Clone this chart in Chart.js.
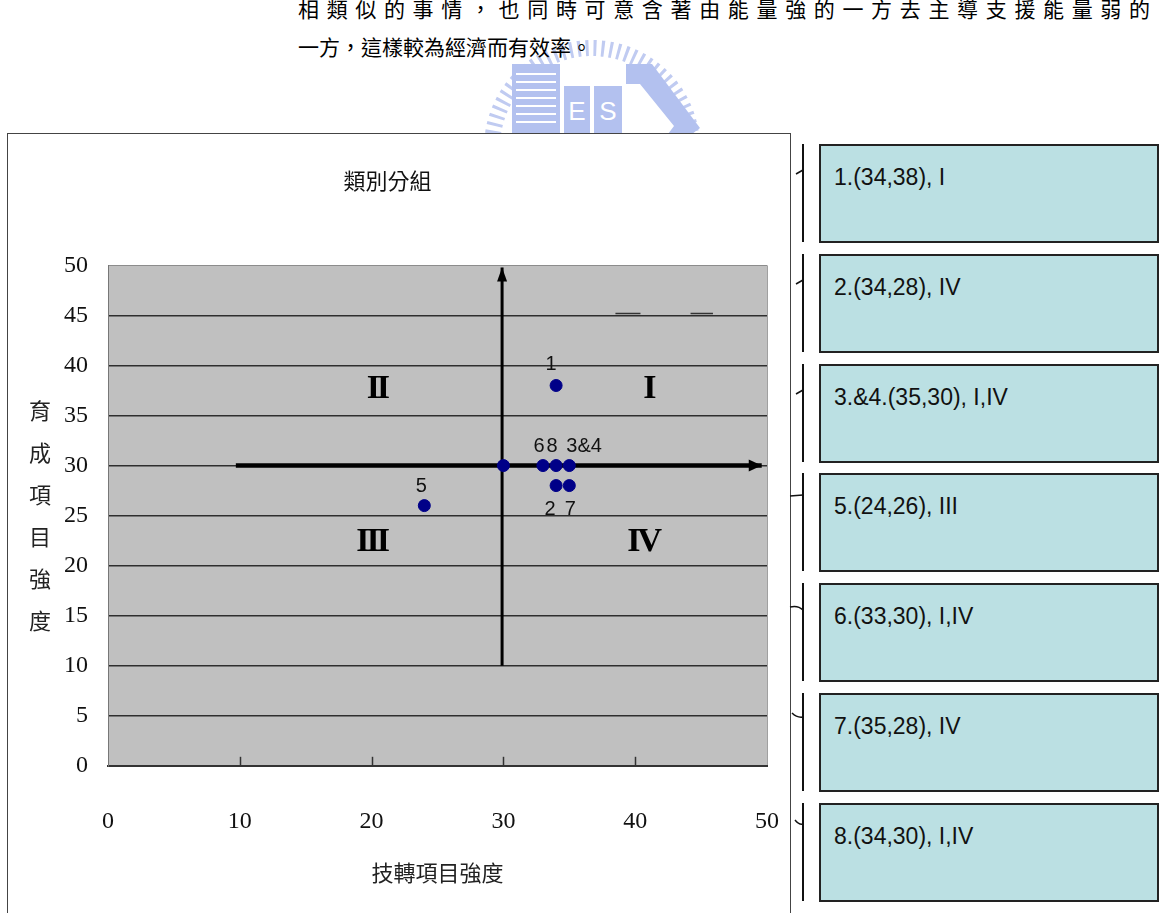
<!DOCTYPE html>
<html>
<head>
<meta charset="utf-8">
<script src="https://cdn.jsdelivr.net/npm/chart.js@4.4.1/dist/chart.umd.min.js"></script>
<style>
  html, body { margin: 0; padding: 0; background: #fff; }
  body { width: 1159px; height: 913px; overflow: hidden; position: relative; font-family: "Noto Sans CJK TC", sans-serif; }
  .para { position: absolute; left: 298px; width: 852px; font-size: 21px; line-height: 24px; color: #000; font-family: "Noto Sans CJK TC", sans-serif; }
  #line1 { top: -4px; text-align: justify; text-align-last: justify; }
  #line2 { top: 34px; white-space: nowrap; }
  #logo { position: absolute; left: 0; top: 0; }
  #frame { position: absolute; left: 7px; top: 133px; width: 782px; height: 800px; border: 1px solid #444; }
  #chart { position: absolute; left: 0; top: 0; }
  .box { position: absolute; left: 819px; width: 336px; height: 95px; background: #bbe0e3; border: 2px solid #222; font-family: "Liberation Sans", Arial, sans-serif; font-size: 23px; color: #111; }
  .box span { position: absolute; left: 13px; top: 18px; white-space: nowrap; }
  #brackets { position: absolute; left: 0; top: 0; pointer-events: none; }
</style>
</head>
<body>
<svg id="logo" width="1159" height="133">
  <circle cx="592" cy="148" r="100" fill="none" stroke="#c0cbf1" stroke-width="16" stroke-dasharray="3 5"/>
  <rect x="512" y="64" width="48" height="70" fill="#b3c1ef"/>
  <g stroke="#fff" stroke-width="2">
    <line x1="516" y1="74" x2="556" y2="74"/><line x1="516" y1="82" x2="556" y2="82"/>
    <line x1="516" y1="90" x2="556" y2="90"/><line x1="516" y1="98" x2="556" y2="98"/>
    <line x1="516" y1="106" x2="556" y2="106"/><line x1="516" y1="114" x2="556" y2="114"/>
    <line x1="516" y1="122" x2="556" y2="122"/>
  </g>
  <rect x="564" y="86" width="26" height="48" fill="#b3c1ef"/>
  <rect x="594" y="86" width="28" height="48" fill="#b3c1ef"/>
  <text x="577" y="120" font-family="Liberation Sans" font-size="26" fill="#fff" text-anchor="middle">E</text>
  <text x="608" y="120" font-family="Liberation Sans" font-size="26" fill="#fff" text-anchor="middle">S</text>
  <polygon points="626,64 652,64 700,128 692,134 668,134 674,126 640,84 626,84" fill="#b3c1ef"/>
</svg>
<div class="para" id="line1">相類似的事情，也同時可意含著由能量強的一方去主導支援能量弱的</div>
<div class="para" id="line2">一方，這樣較為經濟而有效率。</div>

<div id="frame"><canvas id="chart" width="782" height="780"></canvas></div>
<div id="boxes"></div>
<svg id="brackets" width="1159" height="913"></svg>

<script>
// 類別分組 data
const xTickValues = [0, 10, 20, 30, 40, 50];
const yTickValues = [0, 5, 10, 15, 20, 25, 30, 35, 40, 45, 50];

const pointNames = ['1', '2', '3&4', '5', '6', '7', '8'];
const pointX = [34, 34, 35, 24, 33, 35, 34];
const pointY = [38, 28, 30, 26, 30, 28, 30];

const originX = [30];
const originY = [30];

// quadrant axes (arrow tips at the last point)
const hAxisX = [9.7, 49.6];
const hAxisY = [30, 30];
const vAxisX = [29.9, 29.9];
const vAxisY = [10, 49.8];

const quadrantNames = ['I', 'II', 'III', 'IV'];
const quadrantX = [41, 20.4, 20, 40.6];
const quadrantY = [37.6, 37.6, 22.3, 22.3];

// small glitch on the 45 gridline
const glitchX = [[38.5, 40.4], [44.2, 45.9]];
const glitchY = 45.2;

const chartTitle = '類別分組';
const xTitle = '技轉項目強度';
const yTitle = '育成項目強度';

const boxLabels = ['1.(34,38), I', '2.(34,28), IV', '3.&4.(35,30), I,IV', '5.(24,26), III',
                   '6.(33,30), I,IV', '7.(35,28), IV', '8.(34,30), I,IV'];

// label placement around the dots
const labelStyle = {
    '1':   { dx: -5, dy: -21, align: 'center' },
    '2':   { dx: -6, dy: 24,  align: 'center' },
    '3&4': { dx: -3, dy: -19, align: 'left' },
    '5':   { dx: -3, dy: -19, align: 'center' },
    '6':   { dx: -4, dy: -19, align: 'center' },
    '7':   { dx: 1,  dy: 24,  align: 'center' },
    '8':   { dx: -4, dy: -19, align: 'center' }
};

const toXY = (xs, ys) => xs.map((x, i) => ({ x: x, y: ys[i] }));

const quadrantPlugin = {
    id: 'quadrant',
    beforeDraw(chart) {
        const { ctx, chartArea: a } = chart;
        ctx.save();
        ctx.fillStyle = '#c0c0c0';
        ctx.fillRect(a.left, a.top, a.right - a.left, a.bottom - a.top);
        ctx.strokeStyle = '#a0a0a0';
        ctx.lineWidth = 1;
        ctx.beginPath();
        ctx.moveTo(a.right + 0.5, a.top);
        ctx.lineTo(a.right + 0.5, a.bottom);
        ctx.stroke();
        ctx.restore();
    },
    afterDatasetsDraw(chart) {
        const { ctx, chartArea: a, scales: { x, y } } = chart;
        ctx.save();

        // inward ticks on the x axis
        ctx.strokeStyle = '#333';
        ctx.lineWidth = 1.5;
        xTickValues.slice(1, -1).forEach(v => {
            const px = Math.round(x.getPixelForValue(v)) + 0.5;
            ctx.beginPath();
            ctx.moveTo(px, a.bottom);
            ctx.lineTo(px, a.bottom - 9);
            ctx.stroke();
        });

        // arrow heads
        ctx.fillStyle = '#000';
        const hx = x.getPixelForValue(hAxisX[1]), hy = y.getPixelForValue(hAxisY[1]);
        ctx.beginPath();
        ctx.moveTo(hx, hy);
        ctx.lineTo(hx - 13, hy - 6);
        ctx.lineTo(hx - 13, hy + 6);
        ctx.closePath();
        ctx.fill();
        const vx = x.getPixelForValue(vAxisX[1]), vy = y.getPixelForValue(vAxisY[1]);
        ctx.beginPath();
        ctx.moveTo(vx, vy);
        ctx.lineTo(vx - 5, vy + 14);
        ctx.lineTo(vx + 5, vy + 14);
        ctx.closePath();
        ctx.fill();

        // dot labels
        ctx.font = '20px "Liberation Sans", Arial, sans-serif';
        ctx.fillStyle = '#111';
        ctx.textBaseline = 'middle';
        pointNames.forEach((name, i) => {
            const s = labelStyle[name];
            ctx.textAlign = s.align;
            ctx.fillText(name, x.getPixelForValue(pointX[i]) + s.dx, y.getPixelForValue(pointY[i]) + s.dy);
        });

        // quadrant numerals
        ctx.font = 'bold 34px "Liberation Serif", serif';
        ctx.letterSpacing = '-3px';
        ctx.textAlign = 'center';
        ctx.fillStyle = '#000';
        quadrantNames.forEach((q, i) => {
            ctx.fillText(q, x.getPixelForValue(quadrantX[i]), y.getPixelForValue(quadrantY[i]));
        });
        ctx.letterSpacing = '0px';

        // vertical y title, one character per line
        ctx.font = '22px "Noto Sans CJK TC", sans-serif';
        ctx.fillStyle = '#222';
        const chars = yTitle.split('');
        const mid = (a.top + a.bottom) / 2;
        const step = 42;
        chars.forEach((c, i) => {
            ctx.fillText(c, a.left - 68, mid + (i - (chars.length - 1) / 2) * step);
        });
        ctx.restore();
    }
};

const datasets = [
    {
        label: 'points',
        type: 'scatter',
        data: toXY(pointX, pointY),
        backgroundColor: '#000088',
        borderColor: '#000088',
        pointRadius: 6,
        order: 0
    },
    {
        label: 'origin',
        type: 'scatter',
        data: toXY(originX, originY),
        backgroundColor: '#000088',
        borderColor: '#000088',
        pointRadius: 6,
        order: 1
    },
    {
        label: 'h-axis',
        type: 'line',
        data: toXY(hAxisX, hAxisY),
        borderColor: '#000',
        borderWidth: 4.5,
        pointRadius: 0,
        order: 2
    },
    {
        label: 'v-axis',
        type: 'line',
        data: toXY(vAxisX, vAxisY),
        borderColor: '#000',
        borderWidth: 3,
        pointRadius: 0,
        order: 3
    }
];
glitchX.forEach((seg, i) => {
    datasets.push({
        label: 'glitch' + i,
        type: 'line',
        data: seg.map(v => ({ x: v, y: glitchY })),
        borderColor: '#333',
        borderWidth: 1.5,
        pointRadius: 0,
        order: 4
    });
});

new Chart(document.getElementById('chart').getContext('2d'), {
    type: 'scatter',
    data: { datasets: datasets },
    plugins: [quadrantPlugin],
    options: {
        responsive: false,
        animation: false,
        layout: { padding: { left: 0, right: 23, top: 0, bottom: 0 } },
        plugins: {
            legend: { display: false },
            tooltip: { enabled: false },
            title: {
                display: true,
                text: chartTitle,
                color: '#111',
                font: { family: '"Noto Sans CJK TC", sans-serif', size: 22, weight: 'normal' },
                padding: { top: 33, bottom: 72 }
            }
        },
        scales: {
            x: {
                type: 'linear',
                min: 0,
                max: 50,
                afterBuildTicks: s => { s.ticks = xTickValues.map(v => ({ value: v })); },
                // invisible tick marks push the labels down without widening the side padding
                grid: { display: true, drawOnChartArea: false, drawTicks: true, tickLength: 32, color: 'rgba(0,0,0,0)' },
                border: { display: true, color: '#333', width: 2 },
                ticks: {
                    color: '#111',
                    padding: 10,
                    maxRotation: 0,
                    font: { family: '"Liberation Serif", serif', size: 24 }
                },
                title: {
                    display: true,
                    text: xTitle,
                    color: '#222',
                    font: { family: '"Noto Sans CJK TC", sans-serif', size: 22 },
                    padding: { top: 13, bottom: 28 }
                }
            },
            y: {
                type: 'linear',
                min: 0,
                max: 50,
                afterBuildTicks: s => { s.ticks = yTickValues.map(v => ({ value: v })); },
                afterFit: s => { s.width = 100; },
                grid: {
                    drawTicks: false,
                    color: c => c.tick && c.tick.value === 50 ? '#8c8c8c' : '#2e2e2e',
                    lineWidth: c => c.tick && c.tick.value === 50 ? 1 : 1.6
                },
                border: { display: true, color: '#777', width: 1 },
                ticks: {
                    color: '#111',
                    padding: 20,
                    font: { family: '"Liberation Serif", serif', size: 24 }
                }
            }
        }
    }
});

// side boxes and their bracket strokes
const boxesEl = document.getElementById('boxes');
const svg = document.getElementById('brackets');
const hooks = [
    'M796,30 L803,26', 'M796,30 L803,26', 'M796,30 L803,26',
    'M790,23 L803,22', 'M790,24 Q798,22 803,27', 'M792,20 Q797,25 803,24', 'M795,17 Q799,22 803,21'
];
let svgHtml = '';
boxLabels.forEach((label, i) => {
    const top = Math.round(144 + i * 109.8);
    const box = document.createElement('div');
    box.className = 'box';
    box.style.top = top + 'px';
    const span = document.createElement('span');
    span.textContent = label;
    box.appendChild(span);
    boxesEl.appendChild(box);
    svgHtml += `<line x1="803" y1="${top}" x2="803" y2="${top + 98}" stroke="#111" stroke-width="2"/>`;
    svgHtml += `<path d="${hooks[i]}" transform="translate(0,${top})" fill="none" stroke="#111" stroke-width="1.5"/>`;
});
svg.innerHTML = svgHtml;
</script>
</body>
</html>
